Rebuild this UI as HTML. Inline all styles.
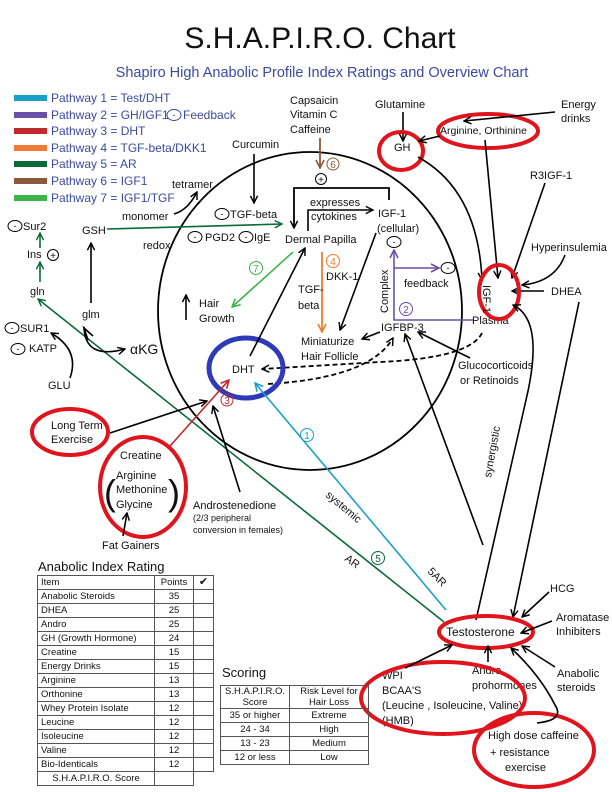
<!DOCTYPE html>
<html><head><meta charset="utf-8"><style>
html,body{margin:0;padding:0;background:#fff}
svg{display:block}
text{font-family:"Liberation Sans",sans-serif;font-size:11px;fill:#111}
.lg{fill:#3b4aa0;font-size:12px}
td{border:1px solid #555;padding:0 3px;height:13px;line-height:13px}
</style></head><body>
<svg width="612" height="792" viewBox="0 0 612 792" xmlns="http://www.w3.org/2000/svg">
<defs>
<marker id="k" viewBox="0 0 10 10" refX="9" refY="5" markerWidth="9" markerHeight="9" orient="auto" markerUnits="userSpaceOnUse"><path d="M1,1 L9,5 L1,9" fill="none" stroke="#000" stroke-width="1.6"/></marker>
<marker id="g" viewBox="0 0 10 10" refX="9" refY="5" markerWidth="9" markerHeight="9" orient="auto" markerUnits="userSpaceOnUse"><path d="M1,1 L9,5 L1,9" fill="none" stroke="#0a6a3a" stroke-width="1.6"/></marker>
<marker id="lg" viewBox="0 0 10 10" refX="9" refY="5" markerWidth="10" markerHeight="10" orient="auto" markerUnits="userSpaceOnUse"><path d="M1,1 L9,5 L1,9" fill="none" stroke="#3cb44a" stroke-width="1.6"/></marker>
<marker id="c" viewBox="0 0 10 10" refX="9" refY="5" markerWidth="10" markerHeight="10" orient="auto" markerUnits="userSpaceOnUse"><path d="M1,1 L9,5 L1,9" fill="none" stroke="#1aa0c8" stroke-width="1.6"/></marker>
<marker id="p" viewBox="0 0 10 10" refX="9" refY="5" markerWidth="10" markerHeight="10" orient="auto" markerUnits="userSpaceOnUse"><path d="M1,1 L9,5 L1,9" fill="none" stroke="#6a4fa8" stroke-width="1.6"/></marker>
<marker id="r" viewBox="0 0 10 10" refX="9" refY="5" markerWidth="10" markerHeight="10" orient="auto" markerUnits="userSpaceOnUse"><path d="M1,1 L9,5 L1,9" fill="none" stroke="#c0282e" stroke-width="1.6"/></marker>
<marker id="o" viewBox="0 0 10 10" refX="9" refY="5" markerWidth="10" markerHeight="10" orient="auto" markerUnits="userSpaceOnUse"><path d="M1,1 L9,5 L1,9" fill="none" stroke="#f07a30" stroke-width="1.6"/></marker>
<marker id="b" viewBox="0 0 10 10" refX="9" refY="5" markerWidth="10" markerHeight="10" orient="auto" markerUnits="userSpaceOnUse"><path d="M1,1 L9,5 L1,9" fill="none" stroke="#8a5a3a" stroke-width="1.6"/></marker>
</defs>

<text x="320" y="48" text-anchor="middle" style="font-size:30px">S.H.A.P.I.R.O. Chart</text>
<text x="322" y="77" text-anchor="middle" style="font-size:14.5px;fill:#3b4aa0">Shapiro High Anabolic Profile Index Ratings and Overview Chart</text>

<!-- legend -->
<g stroke-width="6">
<line x1="14" y1="98" x2="47" y2="98" stroke="#1aa0c8"/>
<line x1="14" y1="115" x2="47" y2="115" stroke="#6a4fa8"/>
<line x1="14" y1="131" x2="47" y2="131" stroke="#c0282e"/>
<line x1="14" y1="148" x2="47" y2="148" stroke="#f07a30"/>
<line x1="14" y1="164" x2="47" y2="164" stroke="#0a6a3a"/>
<line x1="14" y1="181" x2="47" y2="181" stroke="#8a5a3a"/>
<line x1="14" y1="198" x2="47" y2="198" stroke="#3cb44a"/>
</g>
<text class="lg" x="51" y="102">Pathway 1 = Test/DHT</text>
<text class="lg" x="51" y="119">Pathway 2 = GH/IGF1</text>
<ellipse cx="174" cy="115" rx="7" ry="5.5" fill="none" stroke="#3b4aa0"/><text x="174" y="118" text-anchor="middle" class="lg" style="font-size:9px">-</text>
<text class="lg" x="183" y="119">Feedback</text>
<text class="lg" x="51" y="135">Pathway 3 = DHT</text>
<text class="lg" x="51" y="152">Pathway 4 =  TGF-beta/DKK1</text>
<text class="lg" x="51" y="168">Pathway 5 =  AR</text>
<text class="lg" x="51" y="185">Pathway 6 =  IGF1</text>
<text class="lg" x="51" y="202">Pathway 7 = IGF1/TGF</text>

<!-- big circle -->
<ellipse cx="310" cy="311" rx="152" ry="159" fill="none" stroke="#000" stroke-width="1.8"/>

<!-- top labels -->
<text x="290" y="104">Capsaicin</text>
<text x="290" y="118">Vitamin C</text>
<text x="290" y="133">Caffeine</text>
<line x1="320" y1="138" x2="320" y2="168" stroke="#8a5a3a" stroke-width="1.8" marker-end="url(#b)"/>
<circle cx="333" cy="164" r="6" fill="none" stroke="#8a5a3a"/><text x="333" y="168" text-anchor="middle" style="font-size:10px;fill:#8a5a3a">6</text>
<circle cx="321" cy="179" r="5.5" fill="none" stroke="#000"/><text x="321" y="183" text-anchor="middle" style="font-size:10px">+</text>

<text x="232" y="148">Curcumin</text>
<line x1="254" y1="154" x2="254" y2="203" stroke="#000" stroke-width="1.6" marker-end="url(#k)"/>
<text x="172" y="188">tetramer</text>
<path d="M174,214 Q188,210 197,192" fill="none" stroke="#000" stroke-width="1.6" marker-end="url(#k)"/>
<text x="122" y="220">monomer</text>
<text x="143" y="249">redox</text>
<ellipse cx="222" cy="214" rx="7" ry="5.5" fill="none" stroke="#000"/><text x="222" y="217" text-anchor="middle" style="font-size:9px">-</text>
<text x="230" y="218">TGF-beta</text>
<ellipse cx="195" cy="237" rx="7" ry="5.5" fill="none" stroke="#000"/><text x="195" y="240" text-anchor="middle" style="font-size:9px">-</text>
<text x="205" y="241">PGD2</text>
<ellipse cx="246" cy="237" rx="7" ry="5.5" fill="none" stroke="#000"/><text x="246" y="240" text-anchor="middle" style="font-size:9px">-</text>
<text x="254" y="241">IgE</text>

<text x="82" y="234">GSH</text>
<line x1="107" y1="229" x2="282" y2="224" stroke="#0a6a3a" stroke-width="1.6" marker-end="url(#g)"/>
<text x="285" y="243">Dermal Papilla</text>

<!-- rect -->
<path d="M389,200 L389,188 L294,188 L294,228" fill="none" stroke="#000" stroke-width="1.8" marker-end="url(#k)"/>
<path d="M308,231 L308,210 L373,210" fill="none" stroke="#000" stroke-width="1.6" marker-end="url(#k)"/>
<text x="310" y="206">expresses</text>
<text x="311" y="220">cytokines</text>
<text x="378" y="217">IGF-1</text>
<text x="377" y="232">(cellular)</text>
<ellipse cx="394" cy="242" rx="7" ry="5.5" fill="none" stroke="#000"/><text x="394" y="245" text-anchor="middle" style="font-size:9px">-</text>

<!-- pathway 7 -->
<line x1="293" y1="252" x2="232" y2="307" stroke="#3cb44a" stroke-width="1.6" marker-end="url(#lg)"/>
<circle cx="256" cy="268" r="6.5" fill="none" stroke="#3cb44a"/><text x="256" y="272" text-anchor="middle" style="font-size:10px;fill:#3cb44a">7</text>
<line x1="186" y1="320" x2="186" y2="295" stroke="#000" stroke-width="1.6" marker-end="url(#k)"/>
<text x="199" y="307">Hair</text>
<text x="199" y="322">Growth</text>

<!-- orange -->
<line x1="322" y1="252" x2="322" y2="332" stroke="#f07a30" stroke-width="1.8" marker-end="url(#o)"/>
<circle cx="333" cy="261" r="6.5" fill="none" stroke="#f07a30"/><text x="333" y="265" text-anchor="middle" style="font-size:10px;fill:#f07a30">4</text>
<text x="326" y="280">DKK-1</text>
<text x="298" y="293">TGF-</text>
<text x="298" y="309">beta</text>
<line x1="376" y1="233" x2="340" y2="330" stroke="#000" stroke-width="1.6" marker-end="url(#k)"/>
<text x="301" y="345">Miniaturize</text>
<text x="301" y="360">Hair Follicle</text>

<!-- purple -->
<path d="M473,320 L394,320 L394,250" fill="none" stroke="#6a4fa8" stroke-width="1.6" marker-end="url(#p)"/>
<line x1="394" y1="268" x2="439" y2="268" stroke="#6a4fa8" stroke-width="1.6" marker-end="url(#p)"/>
<ellipse cx="448" cy="268" rx="7" ry="5.5" fill="none" stroke="#000"/><text x="448" y="271" text-anchor="middle" style="font-size:9px">-</text>
<text x="404" y="287">feedback</text>
<circle cx="406" cy="309" r="6.5" fill="none" stroke="#6a4fa8"/><text x="406" y="313" text-anchor="middle" style="font-size:10px;fill:#6a4fa8">2</text>
<text transform="translate(388,313) rotate(-90)">Complex</text>
<text x="381" y="331">IGFBP-3</text>
<line x1="380" y1="332" x2="362" y2="339" stroke="#000" stroke-width="1.6" marker-end="url(#k)"/>
<text x="472" y="324">Plasma</text>

<!-- dashed -->
<path d="M482,333 Q470,358 380,362 L262,369" fill="none" stroke="#000" stroke-width="1.8" stroke-dasharray="5,3" marker-end="url(#k)"/>
<path d="M268,384 Q370,378 393,338" fill="none" stroke="#000" stroke-width="1.8" stroke-dasharray="5,3" marker-end="url(#k)"/>

<!-- GH area -->
<text x="375" y="108">Glutamine</text>
<line x1="403" y1="112" x2="403" y2="141" stroke="#000" stroke-width="1.6" marker-end="url(#k)"/>
<text x="394" y="151">GH</text>
<ellipse cx="401" cy="151" rx="22" ry="19" fill="none" stroke="#e0141c" stroke-width="4"/>
<text x="440" y="134" style="font-size:10.5px">Arginine, Orthinine</text>
<ellipse cx="488" cy="131" rx="50" ry="17" fill="none" stroke="#e0141c" stroke-width="4"/>
<text x="561" y="108">Energy</text>
<text x="561" y="122">drinks</text>
<line x1="555" y1="112" x2="464" y2="121" stroke="#000" stroke-width="1.6" marker-end="url(#k)"/>
<line x1="440" y1="136" x2="419" y2="141" stroke="#000" stroke-width="1.6" marker-end="url(#k)"/>
<path d="M418,157 Q478,190 482,280" fill="none" stroke="#000" stroke-width="1.6" marker-end="url(#k)"/>
<line x1="485" y1="140" x2="498" y2="278" stroke="#000" stroke-width="1.6" marker-end="url(#k)"/>
<text x="530" y="179">R3IGF-1</text>
<line x1="545" y1="183" x2="512" y2="278" stroke="#000" stroke-width="1.6" marker-end="url(#k)"/>
<text x="531" y="251">Hyperinsulemia</text>
<path d="M565,255 Q555,282 522,285" fill="none" stroke="#000" stroke-width="1.6" marker-end="url(#k)"/>
<text x="551" y="295">DHEA</text>
<line x1="544" y1="291" x2="512" y2="291" stroke="#000" stroke-width="1.6" marker-end="url(#k)"/>
<ellipse cx="499" cy="292" rx="20" ry="27" fill="none" stroke="#e0141c" stroke-width="4"/>
<text transform="translate(483,285) rotate(90)">IGF-1</text>

<text x="458" y="369">Glucocorticoids</text>
<text x="460" y="384">or Retinoids</text>
<line x1="470" y1="358" x2="418" y2="332" stroke="#000" stroke-width="1.6" marker-end="url(#k)"/>

<!-- long lines to testosterone -->
<line x1="483" y1="545" x2="405" y2="334" stroke="#000" stroke-width="1.6" marker-end="url(#k)"/>
<path d="M476,620 L526,400 Q545,320 513,305" fill="none" stroke="#000" stroke-width="1.6" marker-end="url(#k)"/>
<line x1="579" y1="302" x2="513" y2="617" stroke="#000" stroke-width="1.6" marker-end="url(#k)"/>
<text transform="translate(491,478) rotate(-80)">synergistic</text>

<!-- left column -->
<ellipse cx="15" cy="226" rx="7" ry="5.5" fill="none" stroke="#000"/><text x="15" y="229" text-anchor="middle" style="font-size:9px">-</text>
<text x="23" y="230">Sur2</text>
<text x="27" y="258">Ins</text>
<circle cx="53" cy="255" r="5.5" fill="none" stroke="#000"/><text x="53" y="259" text-anchor="middle" style="font-size:10px">+</text>
<text x="30" y="295">gln</text>
<line x1="40" y1="282" x2="40" y2="262" stroke="#0a6a3a" stroke-width="1.6" marker-end="url(#g)"/>
<line x1="40" y1="248" x2="40" y2="233" stroke="#0a6a3a" stroke-width="1.6" marker-end="url(#g)"/>
<line x1="444" y1="622" x2="38" y2="299" stroke="#0a6a3a" stroke-width="1.6" marker-end="url(#g)"/>
<text x="82" y="318">glm</text>
<line x1="91" y1="303" x2="91" y2="243" stroke="#000" stroke-width="1.6" marker-end="url(#k)"/>
<ellipse cx="12" cy="328" rx="7" ry="5.5" fill="none" stroke="#000"/><text x="12" y="331" text-anchor="middle" style="font-size:9px">-</text>
<text x="20" y="332">SUR1</text>
<ellipse cx="18" cy="349" rx="7" ry="5.5" fill="none" stroke="#000"/><text x="18" y="352" text-anchor="middle" style="font-size:9px">-</text>
<text x="29" y="352">KATP</text>
<text x="48" y="389">GLU</text>
<path d="M70,378 Q80,350 51,333" fill="none" stroke="#000" stroke-width="1.6" marker-end="url(#k)"/>
<path d="M84,327 Q85,360 125,349" fill="none" stroke="#000" stroke-width="1.6" marker-end="url(#k)"/>
<path d="M88,340 L84,328 L93,336" fill="none" stroke="#000" stroke-width="1.6"/>
<text x="130" y="354" style="font-size:14px">αKG</text>

<!-- DHT -->
<text x="232" y="373">DHT</text>
<ellipse cx="246" cy="368" rx="37" ry="30" fill="none" stroke="#2e3ab8" stroke-width="5"/>
<line x1="250" y1="356" x2="305" y2="248" stroke="#000" stroke-width="1.6" marker-end="url(#k)"/>
<line x1="446" y1="610" x2="255" y2="383" stroke="#1aa0c8" stroke-width="1.6" marker-end="url(#c)"/>
<circle cx="307" cy="435" r="6.5" fill="none" stroke="#1aa0c8"/><text x="307" y="439" text-anchor="middle" style="font-size:10px;fill:#1aa0c8">1</text>
<line x1="170" y1="446" x2="229" y2="380" stroke="#c0282e" stroke-width="1.6" marker-end="url(#r)"/>
<circle cx="227" cy="400" r="6" fill="none" stroke="#c0282e"/><text x="227" y="404" text-anchor="middle" style="font-size:10px;fill:#c0282e">3</text>
<line x1="240" y1="492" x2="213" y2="406" stroke="#000" stroke-width="1.6" marker-end="url(#k)"/>
<text transform="translate(325,496) rotate(40)">systemic</text>
<text transform="translate(427,572) rotate(45)">5AR</text>
<text transform="translate(344,560) rotate(35)">AR</text>
<circle cx="378" cy="558" r="6.5" fill="none" stroke="#0a6a3a"/><text x="378" y="562" text-anchor="middle" style="font-size:10px;fill:#0a6a3a">5</text>

<!-- left lower -->
<text x="51" y="429">Long Term</text>
<text x="51" y="443">Exercise</text>
<ellipse cx="70" cy="432" rx="38" ry="23" fill="none" stroke="#e0141c" stroke-width="4"/>
<line x1="110" y1="433" x2="207" y2="401" stroke="#000" stroke-width="1.6" marker-end="url(#k)"/>
<text x="120" y="459">Creatine</text>
<text x="116" y="479">Arginine</text>
<text x="116" y="493">Methonine</text>
<text x="116" y="508">Glycine</text>
<text x="104" y="505" style="font-size:36px">(</text>
<text x="168" y="505" style="font-size:36px">)</text>
<ellipse cx="143" cy="487" rx="43" ry="50" fill="none" stroke="#e0141c" stroke-width="4"/>
<text x="102" y="549">Fat Gainers</text>
<line x1="123" y1="536" x2="127" y2="513" stroke="#000" stroke-width="1.6" marker-end="url(#k)"/>
<text x="193" y="509">Androstenedione</text>
<text x="193" y="521" style="font-size:9px">(2/3 peripheral</text>
<text x="193" y="533" style="font-size:9px">conversion in females)</text>

<!-- testosterone -->
<text x="446" y="636" style="font-size:12px">Testosterone</text>
<ellipse cx="486" cy="632" rx="47" ry="16" fill="none" stroke="#e0141c" stroke-width="4"/>
<text x="550" y="592">HCG</text>
<line x1="549" y1="592" x2="522" y2="617" stroke="#000" stroke-width="1.6" marker-end="url(#k)"/>
<text x="556" y="621">Aromatase</text>
<text x="556" y="635">Inhibiters</text>
<line x1="552" y1="621" x2="521" y2="633" stroke="#000" stroke-width="1.6" marker-end="url(#k)"/>
<text x="557" y="677">Anabolic</text>
<text x="557" y="691">steroids</text>
<line x1="555" y1="667" x2="522" y2="646" stroke="#000" stroke-width="1.6" marker-end="url(#k)"/>
<text x="472" y="674">Andro</text>
<text x="472" y="689">prohormones</text>
<line x1="488" y1="662" x2="488" y2="646" stroke="#000" stroke-width="1.6" marker-end="url(#k)"/>
<text x="382" y="679">WPI</text>
<text x="382" y="694">BCAA'S</text>
<text x="382" y="709">(Leucine , Isoleucine, Valine)</text>
<text x="382" y="724">(HMB)</text>
<ellipse cx="443" cy="698" rx="82" ry="36" fill="none" stroke="#e0141c" stroke-width="4"/>
<line x1="405" y1="668" x2="452" y2="645" stroke="#000" stroke-width="1.6" marker-end="url(#k)"/>
<text x="488" y="739">High dose caffeine</text>
<text x="490" y="756">+ resistance</text>
<text x="505" y="771">exercise</text>
<ellipse cx="534" cy="750" rx="60" ry="37" fill="none" stroke="#e0141c" stroke-width="4"/>
<path d="M537,723 Q565,720 555,705 Q540,675 511,648" fill="none" stroke="#000" stroke-width="1.6" marker-end="url(#k)"/>

<!-- tables -->
<text x="38" y="571" style="font-size:13px">Anabolic Index Rating</text>
<text x="222" y="677" style="font-size:13px">Scoring</text>
<foreignObject x="37" y="575" width="180" height="212">
<table xmlns="http://www.w3.org/1999/xhtml" style="border-collapse:collapse;font-family:'Liberation Sans',sans-serif;font-size:9.5px;color:#111">
<tr><td style="width:110px">Item</td><td style="width:32px;text-align:center">Points</td><td style="width:13px;text-align:center;font-size:11px">✔</td></tr>
<tr><td>Anabolic  Steroids</td><td style="text-align:center">35</td><td></td></tr>
<tr><td>DHEA</td><td style="text-align:center">25</td><td></td></tr>
<tr><td>Andro</td><td style="text-align:center">25</td><td></td></tr>
<tr><td>GH (Growth Hormone)</td><td style="text-align:center">24</td><td></td></tr>
<tr><td>Creatine</td><td style="text-align:center">15</td><td></td></tr>
<tr><td>Energy Drinks</td><td style="text-align:center">15</td><td></td></tr>
<tr><td>Arginine</td><td style="text-align:center">13</td><td></td></tr>
<tr><td>Orthonine</td><td style="text-align:center">13</td><td></td></tr>
<tr><td>Whey Protein Isolate</td><td style="text-align:center">12</td><td></td></tr>
<tr><td>Leucine</td><td style="text-align:center">12</td><td></td></tr>
<tr><td>Isoleucine</td><td style="text-align:center">12</td><td></td></tr>
<tr><td>Valine</td><td style="text-align:center">12</td><td></td></tr>
<tr><td>Bio-Identicals</td><td style="text-align:center">12</td><td></td></tr>
<tr><td style="text-align:center">S.H.A.P.I.R.O. Score</td><td></td></tr>
</table></foreignObject>
<foreignObject x="220" y="685" width="160" height="85">
<table xmlns="http://www.w3.org/1999/xhtml" style="border-collapse:collapse;font-family:'Liberation Sans',sans-serif;font-size:9.5px;color:#111;text-align:center">
<tr><td style="width:62px;line-height:11px">S.H.A.P.I.R.O.<br/>Score</td><td style="width:72px;line-height:11px">Risk Level for<br/>Hair Loss</td></tr>
<tr><td>35 or higher</td><td>Extreme</td></tr>
<tr><td>24 - 34</td><td>High</td></tr>
<tr><td>13 - 23</td><td>Medium</td></tr>
<tr><td>12 or less</td><td>Low</td></tr>
</table></foreignObject>
</svg>
</body></html>
